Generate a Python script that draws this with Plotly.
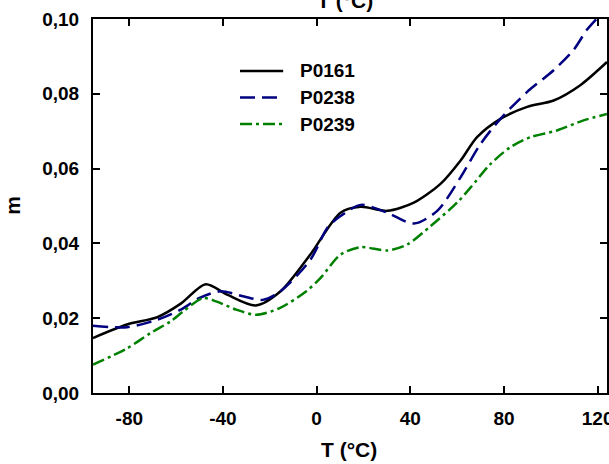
import plotly.graph_objects as go

# P0161 (solid black)
t_p0161 = [-95.5, -81, -68, -58, -47.4, -38.2, -26, -15.4, -2.6, 10.2, 18.8, 30.2, 41.5, 52.9, 61.4, 68.5, 78.5, 89.9, 101.2, 112.6, 123.3, 124]
m_p0161 = [0.0147, 0.0183, 0.0203, 0.0239, 0.0291, 0.0263, 0.0234, 0.0272, 0.0371, 0.0482, 0.0498, 0.0487, 0.0509, 0.0559, 0.0621, 0.0684, 0.0733, 0.0765, 0.0782, 0.0823, 0.0881, 0.0885]

# P0238 (dashed navy)
t_p0238 = [-95.5, -81, -68, -58, -50, -41, -31, -23, -15.4, -2.6, 4.6, 10.2, 18.8, 30.2, 41.5, 51.5, 61.4, 70, 78.5, 89.9, 101.2, 109.7, 115.4, 119.5, 121]
m_p0238 = [0.0180, 0.0176, 0.0196, 0.0223, 0.0254, 0.0272, 0.0258, 0.0249, 0.0272, 0.0357, 0.0442, 0.0473, 0.0503, 0.0482, 0.0453, 0.0487, 0.0576, 0.0666, 0.0733, 0.0805, 0.0863, 0.0917, 0.0971, 0.1000, 0.1010]

# P0239 (dash-dot green)
t_p0239 = [-95.5, -81, -71, -62.5, -57, -48.5, -42.9, -34.4, -25.8, -15.8, -4.4, 1.7, 10.2, 18.8, 30.2, 38.7, 48.6, 60, 65.7, 74.2, 82.7, 91.3, 102.6, 114, 124]
m_p0239 = [0.0076, 0.0119, 0.0160, 0.0191, 0.0218, 0.0254, 0.0245, 0.0223, 0.0209, 0.0227, 0.0272, 0.0308, 0.0370, 0.0390, 0.0381, 0.0397, 0.0446, 0.0509, 0.0549, 0.0612, 0.0657, 0.0684, 0.0702, 0.0729, 0.0746]

series_names = ["P0161", "P0238", "P0239"]
x_ticks = [-80, -40, 0, 40, 80, 120]
y_ticks = [0.00, 0.02, 0.04, 0.06, 0.08, 0.10]

FONT = "Liberation Sans, Arial, sans-serif"
colors = ["black", "#000080", "#008000"]
dashes = ["solid", "15px,7px", "12px,4px,3px,4px"]

fig = go.Figure()
for name, tx, my, c, d in zip(series_names, [t_p0161, t_p0238, t_p0239],
                              [m_p0161, m_p0238, m_p0239], colors, dashes):
    fig.add_trace(go.Scatter(x=tx, y=my, mode="lines", name=name, showlegend=False,
                             line=dict(color=c, width=2.5, dash=d, shape="spline", smoothing=0.8)))

axis_common = dict(showline=True, linecolor="black", linewidth=2, mirror="ticks",
                   ticks="inside", ticklen=7, tickwidth=2, tickcolor="black",
                   showgrid=False, zeroline=False, automargin=False,
                   ticklabeloverflow="allow",
                   tickfont=dict(family=FONT, size=19, color="black", weight="bold"))

fig.update_xaxes(range=[-95.5, 124], tickvals=x_ticks, ticktext=[str(v) for v in x_ticks],
                 ticklabelstandoff=7, **axis_common)
fig.update_yaxes(range=[0, 0.10], tickvals=y_ticks, tickformat=".2f",
                 ticklabelstandoff=8, **axis_common)

# legend drawn as a small key (samples + labels) in paper coordinates
legend_y = [0.861, 0.790, 0.719]
shapes = []
annotations = []
for name, c, d, ly in zip(series_names, colors, dashes, legend_y):
    shapes.append(dict(type="line", xref="paper", yref="paper", x0=0.286, x1=0.370,
                       y0=ly, y1=ly, line=dict(color=c, width=2.5, dash=d)))
    annotations.append(dict(text="<b>%s</b>" % name, xref="paper", yref="paper",
                            x=0.399, y=ly, xanchor="left", yanchor="middle", showarrow=False,
                            font=dict(family=FONT, size=19, color="black")))

annotations += [
    dict(text="<b>T (°C)</b>", xref="paper", yref="paper", x=0.499, y=-0.15,
         showarrow=False, font=dict(family=FONT, size=21, color="black"),
         xanchor="center", yanchor="middle"),
    dict(text="<b>T (°C)</b>", xref="paper", yref="paper", x=0.49, y=1.05,
         showarrow=False, font=dict(family=FONT, size=21, color="black"),
         xanchor="center", yanchor="middle"),
    dict(text="<b>m</b>", xref="paper", yref="paper", x=-0.156, y=0.503,
         showarrow=False, textangle=-90, font=dict(family=FONT, size=21, color="black"),
         xanchor="center", yanchor="middle"),
]

fig.update_layout(
    width=609, height=464,
    margin=dict(l=93, r=2, t=19, b=71, autoexpand=False),
    paper_bgcolor="white", plot_bgcolor="white",
    separators=",.",
    showlegend=False,
    shapes=shapes,
    annotations=annotations,
)

fig.write_html("out.html", config={"displayModeBar": False},
               post_script="document.body.style.margin='0';document.body.style.overflow='hidden';")
